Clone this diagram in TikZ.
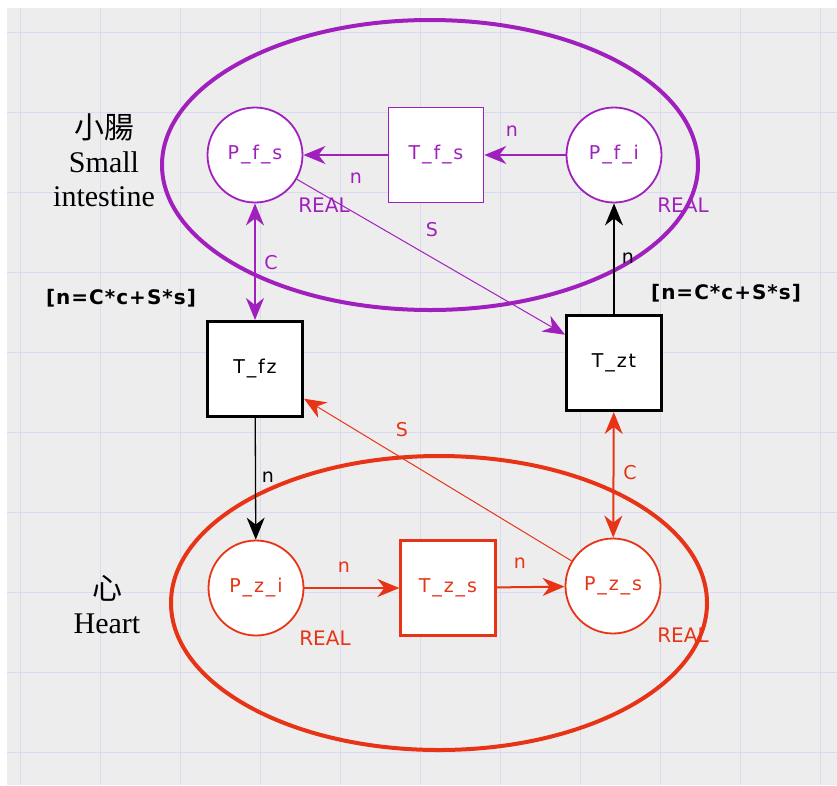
\documentclass[tikz,border=0pt]{standalone}
\usepackage{fontspec}
\setmainfont{Liberation Serif}
\newfontfamily\netfont[LetterSpace=10]{DejaVu Sans}
\newfontfamily\lblfont{DejaVu Sans}
\newfontfamily\guardfont[LetterSpace=5]{DejaVu Sans}
\newfontfamily\cjkfont{Noto Sans CJK TC}
\usetikzlibrary{arrows.meta}
\definecolor{NetPurple}{RGB}{160,32,190}
\definecolor{NetRed}{RGB}{232,52,22}
\definecolor{NetBack}{RGB}{238,237,237}
\definecolor{NetGrid}{RGB}{217,217,243}
\begin{document}
\begin{tikzpicture}[x=1pt,y=-1pt,
  place/.style={circle,draw=#1,fill=white,line width=1.8pt,minimum size=95pt,inner sep=0pt,text=#1,font=\netfont\fontsize{19}{19}\selectfont},
  trans/.style n args={3}{rectangle,draw=#1,fill=white,line width=#3,minimum width=95pt,minimum height=95pt,inner sep=0pt,text=#2,font=\netfont\fontsize{19}{19}\selectfont},
  arc/.style n args={2}{draw=#1,line width=#2,-{Stealth[length=22pt,width=18pt,inset=7pt]}},
  lbl/.style={text=#1,font=\lblfont\fontsize{19}{19}\selectfont},
  guard/.style={font=\guardfont\bfseries\fontsize{20}{20}\selectfont},
  organ/.style={align=center,font=\fontsize{30}{34}\selectfont}]
\useasboundingbox (0,0) rectangle (837,785);
\fill[NetBack] (7,8) rectangle (837,785);
\foreach \x in {20,100,...,820} {
   \draw[NetGrid,line width=1pt] (\x,8) -- (\x,785);
}
\foreach \y in {32,112,...,752} {
   \draw[NetGrid,line width=1pt] (7,\y) -- (837,\y);
}
\draw[NetPurple,line width=4pt] (430,165) ellipse [x radius=268pt,y radius=145pt];
\draw[NetRed,line width=4pt] (439,603) ellipse [x radius=268pt,y radius=147pt];
   \node[place=NetPurple](pfs) at(255,155) {P\_f\_s};
   \node[trans={NetPurple}{NetPurple}{1.6pt}](tfs) at(436,155) {T\_f\_s};
   \node[place=NetPurple](pfi) at(614,155) {P\_f\_i};
   \node[trans={black}{black}{3pt}](tfz) at(255,369) {T\_fz};
   \node[trans={black}{black}{3pt}](tzt) at(614,363) {T\_zt};
   \node[place=NetRed](pzi) at(256,588) {P\_z\_i};
   \node[trans={NetRed}{NetRed}{2.2pt}](tzs) at(448,588) {T\_z\_s};
   \node[place=NetRed](pzs) at(613,586) {P\_z\_s};
\draw[arc={NetPurple}{2pt}] (tfs) -- (pfs);
\draw[arc={NetPurple}{2pt}] (pfi) -- (tfs);
\draw[NetPurple,line width=2pt,{Stealth[length=22pt,width=18pt,inset=7pt]}-{Stealth[length=22pt,width=18pt,inset=7pt]}] (pfs) -- (tfz);
\draw[arc={NetPurple}{1pt}] (pfs) -- (tzt);
\draw[arc={black}{1.3pt}] (tzt) -- (pfi);
\draw[arc={black}{1.3pt}] (tfz) -- (pzi);
\draw[arc={NetRed}{1pt}] (pzs) -- (tfz);
\draw[NetRed,line width=2pt,{Stealth[length=22pt,width=18pt,inset=7pt]}-{Stealth[length=22pt,width=18pt,inset=7pt]}] (tzt) -- (pzs);
\draw[arc={NetRed}{2pt}] (pzi) -- (tzs);
\draw[arc={NetRed}{2pt}] (tzs) -- (pzs);
   \node[lbl=NetPurple](l0) at(356,178) {n};
   \node[lbl=NetPurple](l1) at(512,131) {n};
   \node[lbl=NetPurple](l2) at(432,230) {S};
   \node[lbl=NetPurple](l3) at(271,263) {C};
   \node[lbl=black](l4) at(628,258) {n};
   \node[lbl=NetRed](l5) at(402,430) {S};
   \node[lbl=black](l6) at(268,477) {n};
   \node[lbl=NetRed](l7) at(630,473) {C};
   \node[lbl=NetRed](l8) at(344,567) {n};
   \node[lbl=NetRed](l9) at(520,563) {n};
   \node[lbl=NetPurple,font=\lblfont\fontsize{20}{20}\selectfont](r0) at(324,205) {REAL};
   \node[lbl=NetPurple,font=\lblfont\fontsize{20}{20}\selectfont](r1) at(683,205) {REAL};
   \node[lbl=NetRed,font=\lblfont\fontsize{20}{20}\selectfont](r2) at(325,638) {REAL};
   \node[lbl=NetRed,font=\lblfont\fontsize{20}{20}\selectfont](r3) at(683,635) {REAL};
   \node[guard](g0) at(121,298) {[n=C*c+S*s]};
   \node[guard](g1) at(726,293) {[n=C*c+S*s]};
   \node[organ](o0) at(104,160) {{\cjkfont 小腸}\\Small\\intestine};
   \node[organ](o1) at(107,605) {{\cjkfont 心}\\Heart};
\end{tikzpicture}
\end{document}
